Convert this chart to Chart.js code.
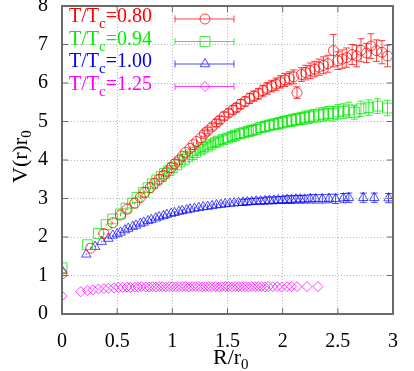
<!DOCTYPE html>
<html>
<head>
<meta charset="utf-8">
<script src="https://cdn.jsdelivr.net/npm/chart.js@4/dist/chart.umd.min.js"></script>
<style>
  html, body { margin: 0; padding: 0; background: #fff; }
  #wrap { position: relative; width: 414px; height: 371px; overflow: hidden; }
  #c { position: absolute; left: 0; top: -20px; }
</style>
</head>
<body>
<div id="wrap"><canvas id="c" width="414" height="391"></canvas></div>
<script>
// T/Tc = 0.80 (circles)
const rRed = [0, 0.26, 0.38, 0.46, 0.53, 0.59, 0.66, 0.71, 0.75, 0.80, 0.84, 0.88, 0.92, 0.95, 0.99, 1.02, 1.06, 1.09, 1.12, 1.16, 1.19, 1.22, 1.26, 1.29, 1.32, 1.36, 1.40, 1.43, 1.47, 1.51, 1.55, 1.58, 1.62, 1.66, 1.70, 1.74, 1.78, 1.82, 1.86, 1.90, 1.94, 1.98, 2.02, 2.06, 2.10, 2.13, 2.17, 2.21, 2.25, 2.29, 2.33, 2.37, 2.41, 2.46, 2.50, 2.54, 2.58, 2.63, 2.67, 2.71, 2.76, 2.80, 2.85, 2.90, 2.95];
const vRed = [1.05, 1.71, 2.09, 2.37, 2.57, 2.72, 2.88, 3.03, 3.16, 3.28, 3.40, 3.50, 3.60, 3.69, 3.80, 3.90, 4.00, 4.10, 4.20, 4.30, 4.40, 4.48, 4.58, 4.68, 4.76, 4.86, 4.96, 5.04, 5.14, 5.22, 5.30, 5.36, 5.45, 5.52, 5.60, 5.66, 5.72, 5.80, 5.86, 5.92, 5.97, 6.03, 6.08, 6.12, 6.16, 5.75, 6.22, 6.27, 6.32, 6.36, 6.41, 6.46, 6.50, 6.84, 6.58, 6.62, 6.66, 6.74, 6.70, 6.85, 6.78, 6.96, 6.84, 6.80, 6.70];
const eRed = [0.02, 0.03, 0.03, 0.03, 0.03, 0.03, 0.03, 0.04, 0.04, 0.04, 0.04, 0.04, 0.05, 0.05, 0.05, 0.05, 0.06, 0.06, 0.06, 0.06, 0.07, 0.07, 0.07, 0.08, 0.08, 0.08, 0.09, 0.09, 0.10, 0.10, 0.11, 0.11, 0.12, 0.12, 0.13, 0.13, 0.14, 0.14, 0.15, 0.15, 0.16, 0.16, 0.17, 0.17, 0.18, 0.15, 0.18, 0.19, 0.20, 0.20, 0.21, 0.22, 0.22, 0.42, 0.23, 0.24, 0.25, 0.26, 0.28, 0.30, 0.25, 0.32, 0.28, 0.30, 0.28];

// T/Tc = 0.94 (squares)
const rGreen = [0, 0.23, 0.33, 0.40, 0.46, 0.53, 0.58, 0.64, 0.68, 0.74, 0.78, 0.82, 0.86, 0.90, 0.93, 0.97, 1.00, 1.04, 1.07, 1.11, 1.14, 1.18, 1.21, 1.25, 1.28, 1.32, 1.35, 1.39, 1.42, 1.46, 1.50, 1.54, 1.57, 1.61, 1.65, 1.69, 1.72, 1.76, 1.80, 1.84, 1.88, 1.92, 1.96, 2.00, 2.04, 2.08, 2.12, 2.16, 2.20, 2.24, 2.28, 2.33, 2.37, 2.41, 2.46, 2.50, 2.55, 2.60, 2.65, 2.71, 2.78, 2.86, 2.95];
const vGreen = [1.20, 1.80, 2.09, 2.32, 2.47, 2.60, 2.75, 2.88, 3.03, 3.16, 3.28, 3.38, 3.48, 3.57, 3.65, 3.73, 3.80, 3.88, 3.95, 4.02, 4.08, 4.14, 4.20, 4.26, 4.31, 4.36, 4.41, 4.45, 4.49, 4.53, 4.57, 4.61, 4.64, 4.68, 4.71, 4.74, 4.77, 4.80, 4.84, 4.87, 4.90, 4.93, 4.95, 4.98, 5.01, 5.03, 5.05, 5.08, 5.10, 5.12, 5.14, 5.17, 5.19, 5.21, 5.20, 5.25, 5.27, 5.30, 5.24, 5.33, 5.36, 5.40, 5.35];
const eGreen = [0.02, 0.03, 0.03, 0.03, 0.03, 0.03, 0.03, 0.03, 0.04, 0.04, 0.04, 0.04, 0.05, 0.05, 0.05, 0.06, 0.06, 0.06, 0.07, 0.07, 0.07, 0.08, 0.08, 0.08, 0.09, 0.09, 0.09, 0.10, 0.10, 0.10, 0.11, 0.11, 0.11, 0.12, 0.12, 0.12, 0.13, 0.13, 0.13, 0.14, 0.14, 0.14, 0.15, 0.15, 0.15, 0.16, 0.16, 0.16, 0.17, 0.17, 0.17, 0.18, 0.18, 0.18, 0.19, 0.19, 0.19, 0.20, 0.18, 0.20, 0.20, 0.19, 0.20];

// T/Tc = 1.00 (triangles)
const rBlue = [0, 0.22, 0.30, 0.36, 0.42, 0.46, 0.50, 0.53, 0.57, 0.60, 0.64, 0.67, 0.71, 0.74, 0.78, 0.81, 0.85, 0.88, 0.92, 0.95, 0.99, 1.02, 1.06, 1.09, 1.13, 1.16, 1.20, 1.24, 1.28, 1.32, 1.36, 1.40, 1.44, 1.48, 1.52, 1.56, 1.60, 1.64, 1.68, 1.72, 1.76, 1.80, 1.84, 1.88, 1.92, 1.96, 2.00, 2.04, 2.08, 2.12, 2.16, 2.20, 2.25, 2.30, 2.36, 2.42, 2.48, 2.55, 2.60, 2.73, 2.83, 2.96];
const vBlue = [1.13, 1.55, 1.75, 1.88, 1.96, 2.04, 2.08, 2.12, 2.18, 2.22, 2.27, 2.30, 2.35, 2.38, 2.42, 2.45, 2.49, 2.52, 2.55, 2.58, 2.61, 2.63, 2.66, 2.68, 2.70, 2.72, 2.74, 2.76, 2.78, 2.79, 2.81, 2.83, 2.84, 2.86, 2.87, 2.88, 2.89, 2.90, 2.91, 2.92, 2.93, 2.93, 2.94, 2.95, 2.95, 2.96, 2.96, 2.97, 2.97, 2.98, 2.98, 2.98, 2.99, 2.99, 2.99, 3.00, 2.99, 3.01, 3.02, 3.02, 3.02, 3.01];
const eBlue = [0.02, 0.02, 0.02, 0.02, 0.02, 0.02, 0.02, 0.02, 0.02, 0.03, 0.03, 0.03, 0.03, 0.03, 0.03, 0.03, 0.04, 0.04, 0.04, 0.04, 0.04, 0.04, 0.05, 0.05, 0.05, 0.05, 0.05, 0.06, 0.06, 0.06, 0.06, 0.06, 0.07, 0.07, 0.07, 0.07, 0.07, 0.08, 0.08, 0.08, 0.08, 0.08, 0.09, 0.09, 0.09, 0.09, 0.09, 0.10, 0.10, 0.10, 0.10, 0.10, 0.11, 0.11, 0.11, 0.11, 0.12, 0.12, 0.12, 0.12, 0.12, 0.12];

// T/Tc = 1.25 (diamonds)
const rMag = [0, 0.17, 0.23, 0.28, 0.33, 0.38, 0.42, 0.47, 0.51, 0.55, 0.59, 0.62, 0.66, 0.69, 0.72, 0.76, 0.79, 0.82, 0.85, 0.88, 0.91, 0.94, 0.97, 1.00, 1.03, 1.06, 1.09, 1.12, 1.15, 1.18, 1.21, 1.24, 1.27, 1.30, 1.33, 1.36, 1.39, 1.42, 1.45, 1.48, 1.51, 1.54, 1.57, 1.60, 1.63, 1.66, 1.69, 1.72, 1.75, 1.78, 1.81, 1.84, 1.87, 1.91, 1.95, 1.99, 2.04, 2.08, 2.13, 2.22, 2.32];
const vMag = [0.47, 0.58, 0.61, 0.63, 0.65, 0.66, 0.67, 0.68, 0.69, 0.69, 0.70, 0.69, 0.70, 0.70, 0.71, 0.70, 0.70, 0.71, 0.70, 0.71, 0.71, 0.70, 0.71, 0.71, 0.70, 0.71, 0.71, 0.71, 0.70, 0.71, 0.71, 0.71, 0.70, 0.71, 0.71, 0.71, 0.71, 0.70, 0.71, 0.71, 0.71, 0.70, 0.71, 0.71, 0.71, 0.71, 0.70, 0.71, 0.71, 0.71, 0.71, 0.70, 0.71, 0.71, 0.71, 0.70, 0.71, 0.71, 0.71, 0.71, 0.71];

const legendLabels = ["0.80", "0.94", "1.00", "1.25"];

const SERIF = "Liberation Serif";
const OFF = 20; // canvas is shifted up so y=8 sits on the page top

const COLORS = {
  red: "rgba(255,0,0,0.75)",
  green: "rgba(0,230,0,0.75)",
  blue: "rgba(0,0,255,0.7)",
  magenta: "rgba(255,0,255,0.75)",
  frame: "#6a6a6a",
  grid: "#b8b8b8",
};

Chart.defaults.font.family = SERIF;

function points(xs, ys) {
  return xs.map((x, i) => ({ x, y: ys[i] }));
}

function series(label, xs, ys, errs, color, style, radius) {
  return {
    label,
    data: points(xs, ys),
    errs,
    borderColor: color,
    backgroundColor: "rgba(0,0,0,0)",
    pointStyle: style,
    pointRadius: radius,
    pointBorderWidth: 1,
    showLine: false,
  };
}

const datasets = [
  series(legendLabels[0], rRed, vRed, eRed, COLORS.red, "circle", 5),
  series(legendLabels[1], rGreen, vGreen, eGreen, COLORS.green, "rect", 7),
  series(legendLabels[2], rBlue, vBlue, eBlue, COLORS.blue, "triangle", 5.5),
  series(legendLabels[3], rMag, vMag, null, COLORS.magenta, "rectRot", 5),
];

// text with a subscript part: parts = [[text, isSub], ...]
function drawParts(ctx, x, y, parts, size, subSize, subShift) {
  ctx.textBaseline = "alphabetic";
  ctx.textAlign = "left";
  for (const [t, sub] of parts) {
    ctx.font = (sub ? subSize : size) + "px " + SERIF;
    ctx.fillText(t, x, sub ? y + subShift : y);
    x += ctx.measureText(t).width;
  }
}

const errorBars = {
  id: "errorBars",
  beforeDatasetsDraw(chart) {
    const { ctx, scales: { x, y } } = chart;
    ctx.save();
    ctx.lineWidth = 1;
    chart.data.datasets.forEach((ds) => {
      if (!ds.errs) return;
      ctx.strokeStyle = ds.borderColor;
      ds.data.forEach((p, i) => {
        const px = x.getPixelForValue(p.x);
        const top = y.getPixelForValue(p.y + ds.errs[i]);
        const bot = y.getPixelForValue(p.y - ds.errs[i]);
        ctx.beginPath();
        ctx.moveTo(px, top); ctx.lineTo(px, bot);
        if (bot - top > 6) {
          ctx.moveTo(px - 3.5, top); ctx.lineTo(px + 3.5, top);
          ctx.moveTo(px - 3.5, bot); ctx.lineTo(px + 3.5, bot);
        }
        ctx.stroke();
      });
    });
    ctx.restore();
  },
};

const frame = {
  id: "frame",
  afterDraw(chart) {
    const { ctx, chartArea: a, scales: { x, y } } = chart;
    ctx.save();
    ctx.strokeStyle = COLORS.frame;
    ctx.lineWidth = 1;
    // inward ticks on all four sides
    ctx.beginPath();
    x.ticks.forEach((t) => {
      const px = x.getPixelForValue(t.value);
      ctx.moveTo(px, a.bottom); ctx.lineTo(px, a.bottom - 6);
      ctx.moveTo(px, a.top); ctx.lineTo(px, a.top + 6);
    });
    y.ticks.forEach((t) => {
      const py = y.getPixelForValue(t.value);
      ctx.moveTo(a.left, py); ctx.lineTo(a.left + 6, py);
      ctx.moveTo(a.right, py); ctx.lineTo(a.right - 6, py);
    });
    ctx.stroke();
    ctx.lineWidth = 2;
    ctx.strokeRect(a.left, a.top, a.right - a.left, a.bottom - a.top);

    // legend
    const rows = [
      [COLORS.red, "#ff0000", "circle", 5],
      [COLORS.green, "#00ee00", "rect", 7],
      [COLORS.blue, "#0000ff", "triangle", 5.5],
      [COLORS.magenta, "#ff00ff", "rectRot", 5],
    ];
    rows.forEach(([lineCol, textCol, style, r], i) => {
      const cy = OFF + 19 + i * 22.5;
      ctx.fillStyle = textCol;
      drawParts(ctx, 69, cy + 3, [["T/T", false], ["c", true], ["=" + legendLabels[i], false]], 20, 15, 6);
      ctx.strokeStyle = lineCol;
      ctx.lineWidth = 1;
      ctx.beginPath();
      ctx.moveTo(175, cy); ctx.lineTo(234, cy);
      ctx.moveTo(175, cy - 3.5); ctx.lineTo(175, cy + 3.5);
      ctx.moveTo(234, cy - 3.5); ctx.lineTo(234, cy + 3.5);
      ctx.stroke();
      ctx.fillStyle = "rgba(0,0,0,0)";
      Chart.helpers.drawPoint(ctx, { pointStyle: style, radius: r, rotation: 0, borderWidth: 1 }, 205, cy);
    });

    // axis titles
    ctx.fillStyle = "#000";
    drawParts(ctx, 213, OFF + 364, [["R/r", false], ["0", true]], 22, 15, 5);
    ctx.translate(27, OFF + 183);
    ctx.rotate(-Math.PI / 2);
    drawParts(ctx, 0, 0, [["V(r)r", false], ["0", true]], 22, 15, 4);
    ctx.restore();
  },
};

new Chart(document.getElementById("c"), {
  type: "scatter",
  data: { datasets },
  options: {
    responsive: false,
    animation: false,
    devicePixelRatio: 1,
    layout: { padding: { top: OFF, right: 10, left: 0, bottom: 0 } },
    plugins: { legend: { display: false }, tooltip: { enabled: false } },
    scales: {
      x: {
        type: "linear",
        min: 0,
        max: 3,
        ticks: {
          stepSize: 0.5, color: "#000", font: { family: SERIF, size: 20 }, padding: 16, maxRotation: 0,
          callback: (v) => String(v),
        },
        grid: { color: COLORS.grid, drawTicks: false, lineWidth: 1 },
        border: { display: false, dash: [1, 2] },
        afterFit: (s) => { s.height = 57; },
      },
      y: {
        type: "linear",
        min: 0,
        max: 8,
        ticks: { stepSize: 1, color: "#000", font: { family: SERIF, size: 20 }, padding: 14, callback: (v) => String(v) },
        grid: { color: COLORS.grid, drawTicks: false, lineWidth: 1 },
        border: { display: false, dash: [1, 2] },
        afterFit: (s) => { s.width = 62; },
      },
    },
  },
  plugins: [errorBars, frame],
});
</script>
</body>
</html>
